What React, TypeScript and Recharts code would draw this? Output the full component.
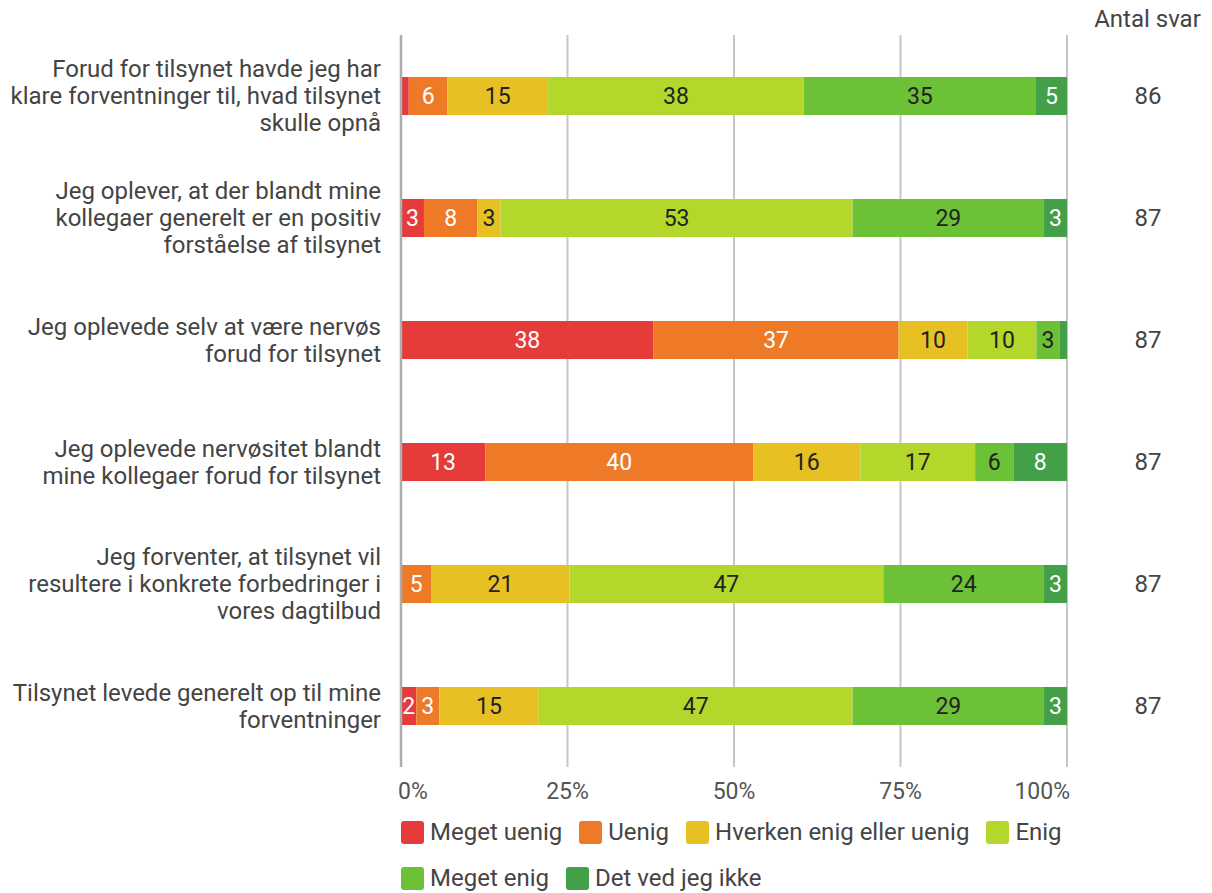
import { BarChart, Bar, XAxis, YAxis, CartesianGrid, Legend, LabelList } from 'recharts';

const questions = [
    ['Forud for tilsynet havde jeg har', 'klare forventninger til, hvad tilsynet', 'skulle opnå'],
    ['Jeg oplever, at der blandt mine', 'kollegaer generelt er en positiv', 'forståelse af tilsynet'],
    ['Jeg oplevede selv at være nervøs', 'forud for tilsynet'],
    ['Jeg oplevede nervøsitet blandt', 'mine kollegaer forud for tilsynet'],
    ['Jeg forventer, at tilsynet vil', 'resultere i konkrete forbedringer i', 'vores dagtilbud'],
    ['Tilsynet levede generelt op til mine', 'forventninger'],
];

// antal svar pr. kategori (stables til 100% via stackOffset="expand")
const megetUenig = [1, 3, 33, 11, 0, 2];
const uenig = [5, 7, 32, 35, 4, 3];
const hverken = [13, 3, 9, 14, 18, 13];
const enig = [33, 46, 9, 15, 41, 41];
const megetEnig = [30, 25, 3, 5, 21, 25];
const vedIkke = [4, 3, 1, 7, 3, 3];
const antalSvar = [86, 87, 87, 87, 87, 87];

const xTicks = [0, 0.25, 0.5, 0.75, 1];
const xTickLabels = ['0%', '25%', '50%', '75%', '100%'];

const series = [
    { key: 'megetUenig', name: 'Meget uenig', values: megetUenig, color: '#E63B3B', text: '#ffffff' },
    { key: 'uenig', name: 'Uenig', values: uenig, color: '#EE7A28', text: '#ffffff' },
    { key: 'hverken', name: 'Hverken enig eller uenig', values: hverken, color: '#E7C123', text: '#222222' },
    { key: 'enig', name: 'Enig', values: enig, color: '#B3D82B', text: '#222222' },
    { key: 'megetEnig', name: 'Meget enig', values: megetEnig, color: '#6CC136', text: '#222222' },
    { key: 'vedIkke', name: 'Det ved jeg ikke', values: vedIkke, color: '#43A048', text: '#ffffff' },
];

const data = questions.map((lines, i) => {
    const row: any = { name: lines.join(' '), total: antalSvar[i], idx: i };
    series.forEach(s => { row[s.key] = s.values[i]; });
    return row;
});

const FONT = 'Roboto, "Noto Sans", sans-serif';

function QuestionTick(props: any) {
    const { x, y, payload } = props;
    const lines = questions[payload.index] || [];
    const start = -((lines.length - 1) / 2) * 27;
    return (
        <text x={x} y={y} textAnchor="end" fill="#444" fontSize={24} fontFamily={FONT}>
            {lines.map((l, i) => (
                <tspan key={i} x={x} y={y + start + i * 27} dy="0.35em">{l}</tspan>
            ))}
        </text>
    );
}

function CountTick(props: any) {
    const { x, y, payload } = props;
    return (
        <text x={x + 81} y={y} dy="0.35em" textAnchor="middle" fill="#444" fontSize={24} fontFamily={FONT}>
            {antalSvar[payload.index]}
        </text>
    );
}

function PercentTick(props: any) {
    const { x, y, payload, index } = props;
    const last = xTicks.length - 1;
    const anchor = index === 0 ? 'start' : index === last ? 'end' : 'middle';
    const dx = index === 0 ? -3 : index === last ? 3 : 0;
    return (
        <text x={x + dx} y={y} dy="0.71em" textAnchor={anchor} fill="#555" fontSize={23} fontFamily={FONT}>
            {xTickLabels[xTicks.indexOf(payload.value)]}
        </text>
    );
}

const makeLabel = (color: string) => (props: any) => {
    const { x, y, width, height, value } = props;
    const pct = Number(value);
    if (!(pct >= 2)) return null;
    return (
        <text
            x={Number(x) + Number(width) / 2}
            y={Number(y) + Number(height) / 2}
            dy="0.35em"
            textAnchor="middle"
            fill={color}
            fontSize={23}
            fontFamily={FONT}
        >
            {Math.round(pct)}
        </text>
    );
};

function LegendContent() {
    return (
        <div style={{
            display: 'flex', flexWrap: 'wrap', columnGap: 17, rowGap: 22,
            paddingTop: 13, paddingBottom: 3, width: 700,
            fontFamily: FONT, fontSize: 24, color: '#444', lineHeight: '24px',
        }}>
            {series.map(s => (
                <div key={s.key} style={{ display: 'flex', alignItems: 'center', height: 24 }}>
                    <span style={{
                        display: 'inline-block', width: 23, height: 23, borderRadius: 3,
                        background: s.color, marginRight: 6,
                    }} />
                    <span>{s.name}</span>
                </div>
            ))}
        </div>
    );
}

export default function App() {
    return (
        <div style={{ position: 'absolute', left: 0, top: 0, background: '#fff' }}>
            <BarChart
                width={1212}
                height={893}
                data={data}
                layout="vertical"
                stackOffset="expand"
                margin={{ top: 35, right: 0, bottom: 0, left: 0 }}
            >
                <CartesianGrid horizontal={false} stroke="#c6c6c6" strokeWidth={2} />
                <XAxis
                    type="number"
                    domain={[0, 1]}
                    ticks={xTicks}
                    tick={<PercentTick />}
                    axisLine={false}
                    tickLine={false}
                    tickSize={0}
                    tickMargin={16}
                    height={40}
                    interval={0}
                />
                <YAxis
                    dataKey="name"
                    type="category"
                    width={401}
                    tick={<QuestionTick />}
                    tickSize={0}
                    tickMargin={20}
                    tickLine={false}
                    axisLine={{ stroke: '#adadad', strokeWidth: 2.5 }}
                    interval={0}
                />
                <YAxis
                    yAxisId="right"
                    orientation="right"
                    dataKey="name"
                    type="category"
                    width={145}
                    tick={<CountTick />}
                    tickSize={0}
                    tickMargin={0}
                    tickLine={false}
                    axisLine={false}
                    interval={0}
                    label={{
                        content: (p: any) => (
                            <text
                                x={p.viewBox.x + p.viewBox.width / 2 + 8}
                                y={p.viewBox.y - 8}
                                textAnchor="middle"
                                fill="#444"
                                fontSize={24}
                                fontFamily={FONT}
                            >
                                Antal svar
                            </text>
                        ),
                    }}
                />
                <Legend
                    verticalAlign="bottom"
                    align="left"
                    content={<LegendContent />}
                    wrapperStyle={{ left: 401, width: 700 }}
                />
                {series.map(s => (
                    <Bar key={s.key} dataKey={s.key} name={s.name} stackId="a" fill={s.color} barSize={38} isAnimationActive={false}>
                        <LabelList
                            dataKey={(row: any) => (row[s.key] / row.total) * 100}
                            content={makeLabel(s.text)}
                        />
                    </Bar>
                ))}
            </BarChart>
        </div>
    );
}
